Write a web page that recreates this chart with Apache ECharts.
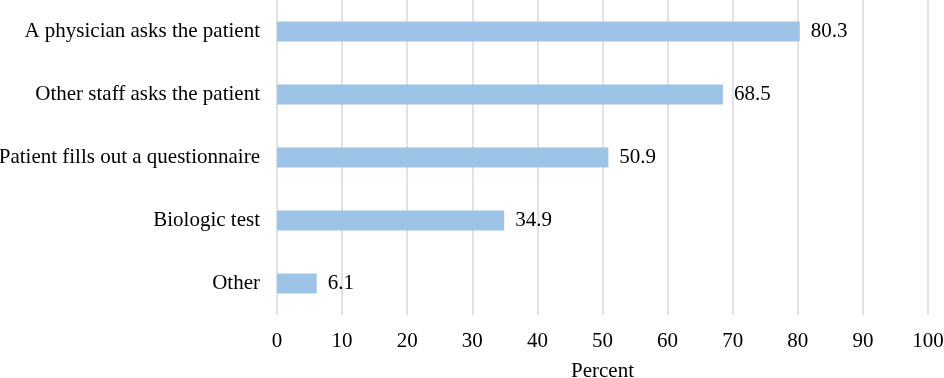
<!DOCTYPE html>
<html>
<head>
<meta charset="utf-8">
<script src="https://cdn.jsdelivr.net/npm/echarts@6/dist/echarts.min.js"></script>
<style>
  html, body { margin: 0; padding: 0; background: #fff; }
  #main { width: 944px; height: 378px; }
</style>
</head>
<body>
<div id="main"></div>
<script>
// categories listed bottom to top (ECharts category axis starts at the bottom)
var categories = ['Other', 'Biologic test', 'Patient fills out a questionnaire', 'Other staff asks the patient', 'A physician asks the patient'];
var percents = [6.1, 34.9, 50.9, 68.5, 80.3];

var chart = echarts.init(document.getElementById('main'));
var font = '"Liberation Serif", "Times New Roman", serif';

chart.setOption({
  animation: false,
  grid: { left: 277, right: 16, top: 0, bottom: 63, outerBoundsMode: 'none', containLabel: false },
  xAxis: {
    type: 'value',
    min: 0,
    max: 100,
    interval: 10,
    name: 'Percent',
    nameLocation: 'middle',
    nameGap: 46,
    nameTextStyle: { fontFamily: font, fontSize: 21, color: '#000' },
    axisLine: { show: false },
    axisTick: { show: false },
    axisLabel: { fontFamily: font, fontSize: 21, color: '#000', margin: 16 },
    splitLine: { lineStyle: { color: '#d9d9d9', width: 1.5 } }
  },
  yAxis: {
    type: 'category',
    data: categories,
    axisLine: { show: false },
    axisTick: { show: false },
    axisLabel: { fontFamily: font, fontSize: 21, color: '#000', margin: 17 }
  },
  series: [{
    type: 'bar',
    data: percents,
    barWidth: 20,
    itemStyle: { color: '#9dc3e6' },
    label: {
      show: true,
      position: 'right',
      distance: 11,
      fontFamily: font,
      fontSize: 21,
      color: '#000',
      formatter: function (p) { return p.value.toFixed(1); }
    }
  }]
});
</script>
</body>
</html>
